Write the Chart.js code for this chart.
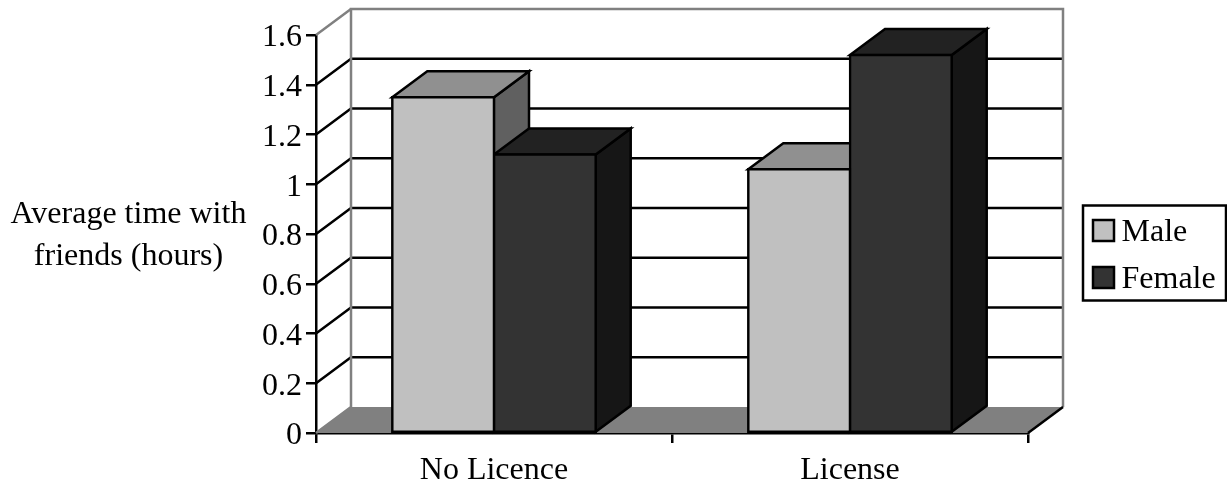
<!DOCTYPE html>
<html>
<head>
<meta charset="utf-8">
<title>Average time with friends</title>
<script src="https://cdn.jsdelivr.net/npm/chart.js@4/dist/chart.umd.js"></script>
<style>
html,body{margin:0;padding:0;background:#fff}
canvas{display:block}
</style>
</head>
<body>
<canvas id="c" width="1227" height="489"></canvas>
<script>
const categories = ['No Licence', 'License'];
const maleValues = [1.35, 1.06];
const femaleValues = [1.12, 1.52];
const yTicks = ['0', '0.2', '0.4', '0.6', '0.8', '1', '1.2', '1.4', '1.6'];
const yTitleLines = ['Average time with', 'friends (hours)'];

const FONT = '"Liberation Serif", "Times New Roman", serif';
const FONT_SIZE = 32;
const DEPTH_X = 35, DEPTH_Y = -26;
const STROKE = 2.5;
const WALL = '#808080';

const shades = {
  Male:   { front: '#c0c0c0', top: '#909090', side: '#606060' },
  Female: { front: '#333333', top: '#222222', side: '#161616' }
};

function poly(ctx, pts, fill, stroke) {
  ctx.beginPath();
  pts.forEach((p, i) => i ? ctx.lineTo(p[0], p[1]) : ctx.moveTo(p[0], p[1]));
  ctx.closePath();
  if (fill) { ctx.fillStyle = fill; ctx.fill(); }
  if (stroke) { ctx.strokeStyle = stroke; ctx.lineWidth = STROKE; ctx.lineJoin = 'miter'; ctx.stroke(); }
}

function segs(ctx, pts, color, width) {
  ctx.beginPath();
  pts.forEach((p, i) => i ? ctx.lineTo(p[0], p[1]) : ctx.moveTo(p[0], p[1]));
  ctx.strokeStyle = color;
  ctx.lineWidth = width;
  ctx.stroke();
}

// Floor, side wall, back wall and the depth faces of the bars.
// Chart.js paints the last dataset first, so Female fronts land before Male fronts;
// the faces are laid down here, Male then Female, underneath both.
const wallsPlugin = {
  id: 'walls',
  beforeDatasetsDraw(chart) {
    const { ctx, chartArea: a, scales: { y } } = chart;
    const base = y.getPixelForValue(0), top = y.getPixelForValue(1.6);
    ctx.save();
    poly(ctx, [[a.left, base], [a.left + DEPTH_X, base + DEPTH_Y],
               [a.right + DEPTH_X, base + DEPTH_Y], [a.right, base]], WALL, null);
    y.ticks.forEach(t => {
      if (t.value <= 0 || t.value >= 1.6) return;
      const py = y.getPixelForValue(t.value);
      segs(ctx, [[a.left, py], [a.left + DEPTH_X, py + DEPTH_Y],
                 [a.right + DEPTH_X, py + DEPTH_Y]], '#000', STROKE);
    });
    segs(ctx, [[a.left, base], [a.left + DEPTH_X, base + DEPTH_Y],
               [a.left + DEPTH_X, top + DEPTH_Y], [a.right + DEPTH_X, top + DEPTH_Y],
               [a.right + DEPTH_X, base + DEPTH_Y]], WALL, STROKE);
    segs(ctx, [[a.left, top], [a.left + DEPTH_X, top + DEPTH_Y]], WALL, STROKE);
    segs(ctx, [[a.right, base], [a.right + DEPTH_X, base + DEPTH_Y]], '#000', STROKE);

    chart.data.datasets.forEach((ds, i) => {
      const tone = shades[ds.label];
      chart.getDatasetMeta(i).data.forEach(bar => {
        const p = bar.getProps(['x', 'y', 'base', 'width'], true);
        const l = p.x - p.width / 2, r = p.x + p.width / 2;
        const t = p.y, b = p.base;
        poly(ctx, [[r, t], [r + DEPTH_X, t + DEPTH_Y], [r + DEPTH_X, b + DEPTH_Y], [r, b]], tone.side, '#000');
        poly(ctx, [[l, t], [l + DEPTH_X, t + DEPTH_Y], [r + DEPTH_X, t + DEPTH_Y], [r, t]], tone.top, '#000');
      });
    });
    ctx.restore();
  },
  // Axis title and boxed legend
  afterDraw(chart) {
    const { ctx } = chart;
    ctx.save();
    ctx.fillStyle = '#000';
    ctx.font = FONT_SIZE + 'px ' + FONT;
    ctx.textBaseline = 'alphabetic';
    ctx.textAlign = 'center';
    ctx.fillText(yTitleLines[0], 128.5, 223);
    ctx.fillText(yTitleLines[1], 128.5, 264.5);

    ctx.textAlign = 'left';
    ctx.lineWidth = 2.5;
    ctx.strokeStyle = '#000';
    ctx.strokeRect(1083, 205.5, 143, 95);
    const rows = [{ y: 220, text: 241 }, { y: 267, text: 287.5 }];
    chart.data.datasets.forEach((ds, i) => {
      ctx.fillStyle = ds.backgroundColor;
      ctx.fillRect(1093, rows[i].y, 21, 21);
      ctx.strokeRect(1093, rows[i].y, 21, 21);
      ctx.fillStyle = '#000';
      ctx.fillText(ds.label, 1121.5, rows[i].text);
    });
    ctx.restore();
  }
};

new Chart(document.getElementById('c'), {
  type: 'bar',
  data: {
    labels: categories,
    datasets: [
      { label: 'Male', data: maleValues, backgroundColor: shades.Male.front },
      { label: 'Female', data: femaleValues, backgroundColor: shades.Female.front }
    ]
  },
  options: {
    responsive: false,
    animation: false,
    devicePixelRatio: 1,
    layout: { padding: { top: 35, right: 199, left: 0, bottom: 0 } },
    datasets: {
      bar: {
        categoryPercentage: 0.5714,
        barPercentage: 1,
        borderColor: '#000',
        borderWidth: STROKE,
        borderSkipped: false,
        inflateAmount: STROKE / 2
      }
    },
    plugins: { legend: { display: false }, title: { display: false }, tooltip: { enabled: false } },
    scales: {
      x: {
        afterFit(s) { s.height = 56; },
        grid: { offset: true, drawOnChartArea: false, drawTicks: true, tickLength: 10, color: '#000', lineWidth: STROKE },
        border: { color: '#000', width: STROKE },
        ticks: { color: '#000', font: { family: FONT, size: FONT_SIZE }, padding: 8, maxRotation: 0 }
      },
      y: {
        min: 0,
        max: 1.6,
        afterFit(s) { s.width = 316; },
        afterBuildTicks(s) {
          s.ticks = yTicks.map(v => ({ value: Number(v) }));
        },
        grid: { drawOnChartArea: false, drawTicks: true, tickLength: 10, color: '#000', lineWidth: STROKE },
        border: { color: '#000', width: STROKE },
        ticks: {
          color: '#000',
          font: { family: FONT, size: FONT_SIZE },
          padding: 4,
          labelOffset: 3,
          callback: (v, i) => yTicks[i]
        }
      }
    }
  },
  plugins: [wallsPlugin]
});
</script>
</body>
</html>
